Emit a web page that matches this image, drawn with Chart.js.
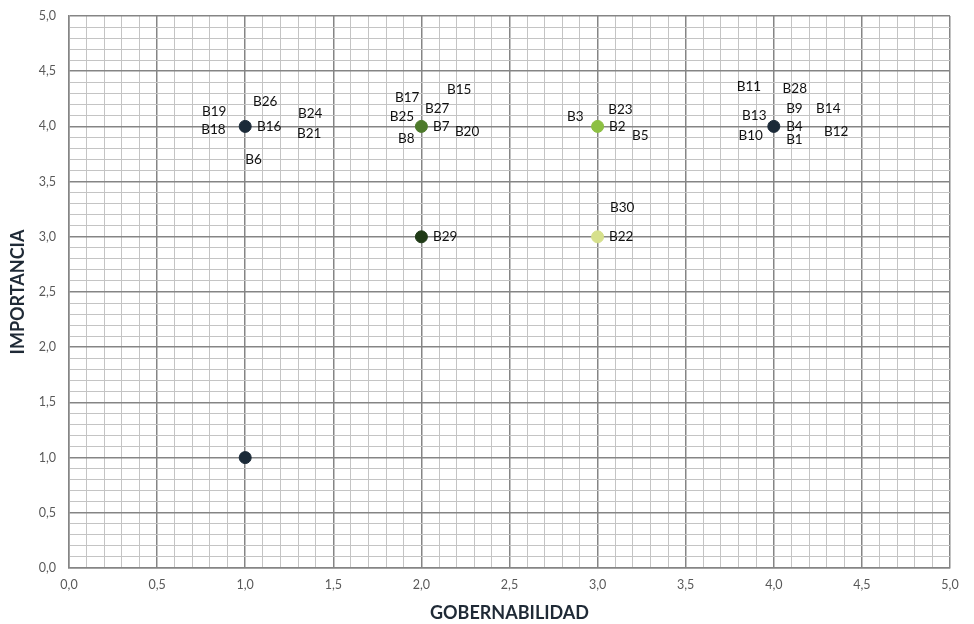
<!DOCTYPE html>
<html>
<head>
<meta charset="utf-8">
<script src="https://cdn.jsdelivr.net/npm/chart.js@4/dist/chart.umd.min.js"></script>
<style>
  html, body { margin: 0; padding: 0; background: #fff; }
  #wrap { width: 974px; height: 624px; }
</style>
</head>
<body>
<div id="wrap"><canvas id="matriz"></canvas></div>
<script>
// Matriz importancia / gobernabilidad

// puntos
var gobernabilidad = [1, 1, 2, 2, 3, 3, 4];
var importancia = [4, 1, 4, 3, 4, 3, 4];

// etiquetas de los puntos (posicion en unidades del grafico)
var etiquetas = ['B19', 'B18', 'B26', 'B16', 'B24', 'B21', 'B6',
  'B17', 'B15', 'B27', 'B25', 'B7', 'B8', 'B20',
  'B3', 'B23', 'B2', 'B5', 'B30', 'B22', 'B29',
  'B11', 'B28', 'B13', 'B9', 'B14', 'B4', 'B10', 'B1', 'B12'];
var etiquetaX = [0.755, 0.75, 1.044, 1.067, 1.30, 1.294, 1.0,
  1.85, 2.145, 2.02, 1.82, 2.066, 1.867, 2.19,
  2.826, 3.06, 3.065, 3.195, 3.07, 3.065, 2.066,
  3.79, 4.05, 3.82, 4.07, 4.24, 4.07, 3.80, 4.07, 4.285];
var etiquetaY = [4.13, 3.97, 4.22, 4.0, 4.12, 3.93, 3.70,
  4.26, 4.33, 4.16, 4.09, 4.0, 3.89, 3.95,
  4.09, 4.15, 4.0, 3.92, 3.26, 3.0, 3.0,
  4.36, 4.34, 4.10, 4.16, 4.16, 4.0, 3.92, 3.88, 3.95];

var colores = ['#1b2a38', '#1b2a38', '#4d7a2b', '#1f3a16', '#8dc043', '#d6e08c', '#1b2a38'];

function esMayor(v) {
  return Math.abs(v * 2 - Math.round(v * 2)) < 1e-6;
}
function formato(v) {
  return v.toFixed(1).replace('.', ',');
}

var etiquetasPlugin = {
  id: 'etiquetas',
  afterDatasetsDraw: function (chart) {
    var ctx = chart.ctx;
    var x = chart.scales.x, y = chart.scales.y;
    ctx.save();
    ctx.font = '13.5px Lato';
    ctx.fillStyle = '#111';
    ctx.textAlign = 'left';
    ctx.textBaseline = 'middle';
    for (var i = 0; i < etiquetas.length; i++) {
      ctx.fillText(etiquetas[i], x.getPixelForValue(etiquetaX[i]), y.getPixelForValue(etiquetaY[i]));
    }
    ctx.restore();
  }
};

var data = gobernabilidad.map(function (g, i) { return { x: g, y: importancia[i] }; });

var ctx = document.getElementById('matriz').getContext('2d');
var chart = new Chart(ctx, {
  type: 'scatter',
  data: {
    datasets: [{
      data: data,
      pointBackgroundColor: colores,
      pointBorderColor: colores,
      pointRadius: 6,
      pointHoverRadius: 6
    }]
  },
  options: {
    responsive: true,
    maintainAspectRatio: false,
    animation: false,
    layout: { padding: { top: 16, right: 24, left: 0, bottom: 0 } },
    plugins: {
      legend: { display: false },
      tooltip: { enabled: false }
    },
    scales: {
      x: {
        type: 'linear',
        min: 0, max: 5,
        ticks: {
          stepSize: 0.1,
          autoSkip: false,
          maxRotation: 0,
          padding: 9,
          color: '#595959',
          font: { family: 'Lato', size: 12.5 },
          callback: function (v) { return esMayor(v) ? formato(v) : ''; }
        },
        grid: {
          drawTicks: false,
          color: function (c) { return esMayor(c.tick.value) ? '#858585' : '#c4c4c4'; },
          lineWidth: function (c) { return esMayor(c.tick.value) ? 1.5 : 1; }
        },
        border: { display: true, color: '#858585', width: 1.5 },
        title: {
          display: true,
          text: 'GOBERNABILIDAD',
          color: '#1f2a36',
          font: { family: 'Lato', size: 18, weight: 'bold' },
          padding: { top: 0, bottom: 0 }
        },
        afterFit: function (s) { s.height = 56; }
      },
      y: {
        type: 'linear',
        min: 0, max: 5,
        ticks: {
          stepSize: 0.1,
          autoSkip: false,
          padding: 0,
          color: '#595959',
          font: { family: 'Lato', size: 12.5 },
          callback: function (v) { return esMayor(v) ? formato(v) : ''; }
        },
        grid: {
          drawTicks: true,
          tickLength: 13,
          tickColor: 'rgba(0,0,0,0)',
          color: function (c) { return esMayor(c.tick.value) ? '#858585' : '#c4c4c4'; },
          lineWidth: function (c) { return esMayor(c.tick.value) ? 1.5 : 1; }
        },
        border: { display: true, color: '#858585', width: 1.5 },
        title: {
          display: true,
          text: 'IMPORTANCIA',
          color: '#1f2a36',
          font: { family: 'Lato', size: 18, weight: 'bold' },
          padding: { top: 7, bottom: 0 }
        },
        afterFit: function (s) { s.width = 69; }
      }
    }
  },
  plugins: [etiquetasPlugin]
});
</script>
</body>
</html>
